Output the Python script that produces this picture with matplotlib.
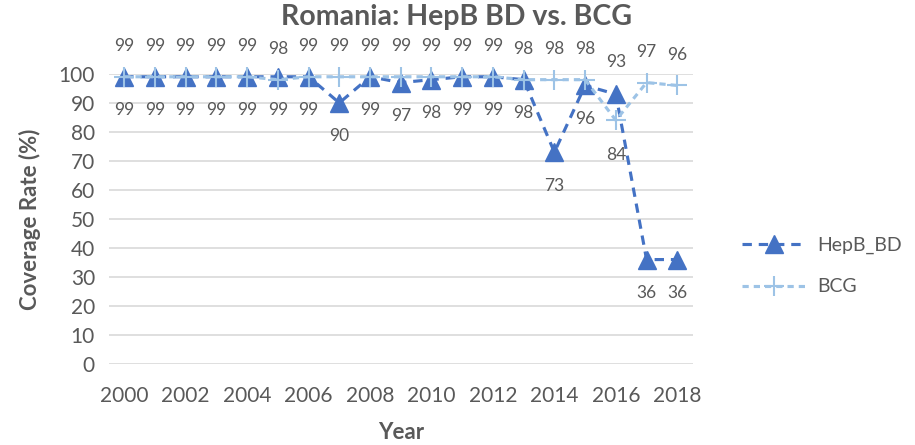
import matplotlib.pyplot as plt
import numpy as np

plt.rcParams['font.family'] = ['Lato', 'DejaVu Sans']

years = [str(y) for y in range(2000, 2019)]
hepb_bd = [99, 99, 99, 99, 99, 99, 99, 90, 99, 97, 98, 99, 99, 98, 73, 96, 93, 36, 36]
bcg = [99, 99, 99, 99, 99, 98, 99, 99, 99, 99, 99, 99, 99, 98, 98, 98, 84, 97, 96]

# label side per point: +1 above, -1 below
hepb_side = [-1] * 16 + [1] + [-1] * 2
bcg_side = [1] * 16 + [-1] + [1] * 2

text_col = '#595959'
hepb_col = '#4472C4'
bcg_col = '#9DC3E6'

fig = plt.figure(figsize=(9.15, 4.45), dpi=100)
ax = fig.add_axes([0.119, 0.182, 0.638, 0.652])

x = np.arange(len(years))
ax.plot(x, hepb_bd, color=hepb_col, lw=2.25, ls=(0, (3, 2.2)), marker='^',
        ms=13, mec=hepb_col, mfc=hepb_col, label='HepB_BD', clip_on=False, zorder=3)
ax.plot(x, bcg, color=bcg_col, lw=2.25, ls=(0, (2, 1.6)), marker='+',
        ms=15, mew=1.5, label='BCG', clip_on=False, zorder=4)

for xi, v, s in zip(x, hepb_bd, hepb_side):
    ax.annotate(str(v), (xi, v), xytext=(0, 23 if s > 0 else -24),
                textcoords='offset points', ha='center', va='center',
                fontsize=12.5, color=text_col, annotation_clip=False)
for xi, v, s in zip(x, bcg, bcg_side):
    ax.annotate(str(v), (xi, v), xytext=(0, 22 if s > 0 else -25),
                textcoords='offset points', ha='center', va='center',
                fontsize=12.5, color=text_col, annotation_clip=False)

ax.set_xlim(-0.5, len(years) - 0.5)
ax.set_ylim(0, 100)
ax.set_yticks(range(0, 101, 10))
ax.set_xticks(x[::2])
ax.set_xticklabels(years[::2])
ax.tick_params(length=0, labelsize=15, colors=text_col, pad=10)
ax.tick_params(axis='x', pad=16)
ax.grid(axis='y', color='#D9D9D9', lw=1.2)
ax.set_axisbelow(True)
for sp in ax.spines.values():
    sp.set_visible(False)

ax.set_xlabel('Year', fontsize=16, fontweight='bold', color=text_col, labelpad=11)
ax.set_ylabel('Coverage Rate (%)', fontsize=16, fontweight='bold', color=text_col, labelpad=13)
fig.suptitle('Romania: HepB BD vs. BCG', x=0.499, y=0.99, fontsize=20.5,
             fontweight='bold', color=text_col)

fig.legend(loc='center left', bbox_to_anchor=(0.8, 0.402), frameon=False,
           fontsize=14, handlelength=3.3, handletextpad=0.6, labelspacing=1.25,
           borderpad=0, labelcolor=text_col)

fig.savefig('out.png', dpi=100)
